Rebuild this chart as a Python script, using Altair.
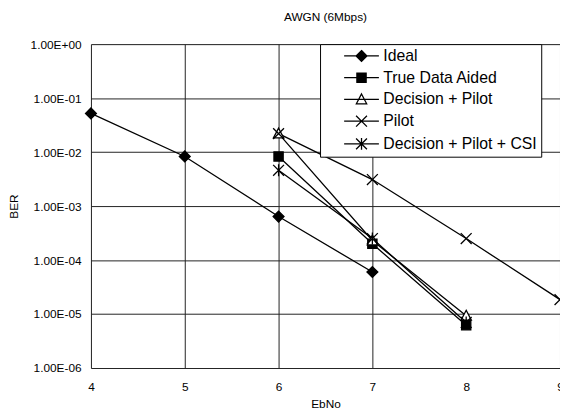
import altair as alt
import pandas as pd

series_names = ["Ideal", "True Data Aided", "Decision + Pilot", "Pilot", "Decision + Pilot + CSI"]

ideal_x = [4, 5, 6, 7]
ideal_ber = [5.2e-2, 8.3e-3, 6.4e-4, 6.0e-5]

true_x = [6, 7, 8]
true_ber = [8.3e-3, 2.0e-4, 6.2e-6]

dp_x = [6, 7, 8]
dp_ber = [2.2e-2, 2.3e-4, 9.3e-6]

pilot_x = [6, 7, 8, 9]
pilot_ber = [2.2e-2, 3.1e-3, 2.5e-4, 1.85e-5]

csi_x = [6, 7, 8]
csi_ber = [4.6e-3, 2.5e-4, 7.0e-6]

x_ticks = [4, 5, 6, 7, 8, 9]
y_ticks = [1e-6, 1e-5, 1e-4, 1e-3, 1e-2, 1e-1, 1.0]

rows = []
for name, xs, ys in [
    ("Ideal", ideal_x, ideal_ber),
    ("True Data Aided", true_x, true_ber),
    ("Decision + Pilot", dp_x, dp_ber),
    ("Pilot", pilot_x, pilot_ber),
    ("Decision + Pilot + CSI", csi_x, csi_ber),
]:
    for xv, yv in zip(xs, ys):
        rows.append({"series": name, "ebno": xv, "ber": yv, "order": series_names.index(name)})
df = pd.DataFrame(rows)

marker_paths = [
    "M0,-1L1,0L0,1L-1,0Z",
    "M-0.85,-0.85H0.85V0.85H-0.85Z",
    "M0,-1L0.95,0.8H-0.95Z",
    "M-1,-1L1,1M-1,1L1,-1",
    "M-1,-1L1,1M-1,1L1,-1M0,-1.1V1.1",
]
legend_paths = ["M-3.2,0H3.2" + p for p in marker_paths]
fills = ["black", "black", "white", "black", "black"]
strokes = ["black"] * 5

FONT = "Liberation Sans"

x_enc = alt.X(
    "ebno:Q",
    scale=alt.Scale(domain=[4, 9], nice=False, zero=False),
    axis=alt.Axis(
        values=x_ticks, format="d", title="EbNo", grid=True,
        gridColor=alt.condition("datum.value == 8", alt.value("transparent"), alt.value("#222222")),
        ticks=False, domain=False, labelPadding=14, titlePadding=6,
        labelFont=FONT, labelFontSize=12, titleFont=FONT, titleFontSize=12,
        titleFontWeight="normal", labelColor="black", titleColor="black",
        labelFlush=False,
    ),
)
y_enc = alt.Y(
    "ber:Q",
    scale=alt.Scale(type="log", domain=[1e-6, 1], nice=False),
    axis=alt.Axis(
        values=y_ticks, title="BER", grid=True, gridColor="#222222",
        ticks=False, domain=False, labelPadding=10, titlePadding=10,
        labelExpr="'1.00E' + (datum.value >= 1 ? '+00' : '-0' + round(-log(datum.value) / LN10))",
        labelFont=FONT, labelFontSize=12, titleFont=FONT, titleFontSize=12,
        titleFontWeight="normal", labelColor="black", titleColor="black",
    ),
)

base = alt.Chart(df)

lines = base.mark_line(color="black", strokeWidth=1.3).encode(
    x=x_enc, y=y_enc, detail="series:N", order="ebno:Q"
)

points = base.mark_point(size=121, stroke="black", strokeWidth=1.3, opacity=1, fillOpacity=1).encode(
    x=x_enc, y=y_enc,
    shape=alt.Shape("series:N", scale=alt.Scale(domain=series_names, range=marker_paths), legend=None),
    fill=alt.Fill("series:N", scale=alt.Scale(domain=series_names, range=fills), legend=None),
    order="order:Q",
)

legend = alt.Legend(
    title=None, orient="none", legendX=232, legendY=0,
    labelFont=FONT, labelFontSize=16, labelColor="black",
    strokeColor="black", fillColor="white", padding=4,
    symbolSize=121, symbolStrokeWidth=1.3, symbolOpacity=1,
    symbolOffset=30, labelOffset=14, rowPadding=5, labelLimit=300,
)

legend_layer = base.mark_point(size=121, opacity=0).encode(
    x=x_enc, y=y_enc,
    shape=alt.Shape("series:N", scale=alt.Scale(domain=series_names, range=legend_paths), legend=legend),
    fill=alt.Fill("series:N", scale=alt.Scale(domain=series_names, range=fills), legend=legend),
    stroke=alt.Stroke("series:N", scale=alt.Scale(domain=series_names, range=strokes), legend=legend),
)

chart = (
    alt.layer(lines, points, legend_layer)
    .resolve_scale(shape="independent", fill="independent", stroke="independent")
    .properties(
        width=475, height=328,
        title=alt.TitleParams("AWGN (6Mbps)", font=FONT, fontSize=12, fontWeight="normal",
                              color="black", offset=14, anchor="middle"),
        autosize=alt.AutoSizeParams(type="none"),
        padding={"left": 84, "top": 34, "right": 0, "bottom": 46},
    )
    .configure_view(stroke="black", strokeWidth=1)
    .configure(background="white")
)

chart.save("out.html", embed_options={"renderer": "svg", "actions": False})
